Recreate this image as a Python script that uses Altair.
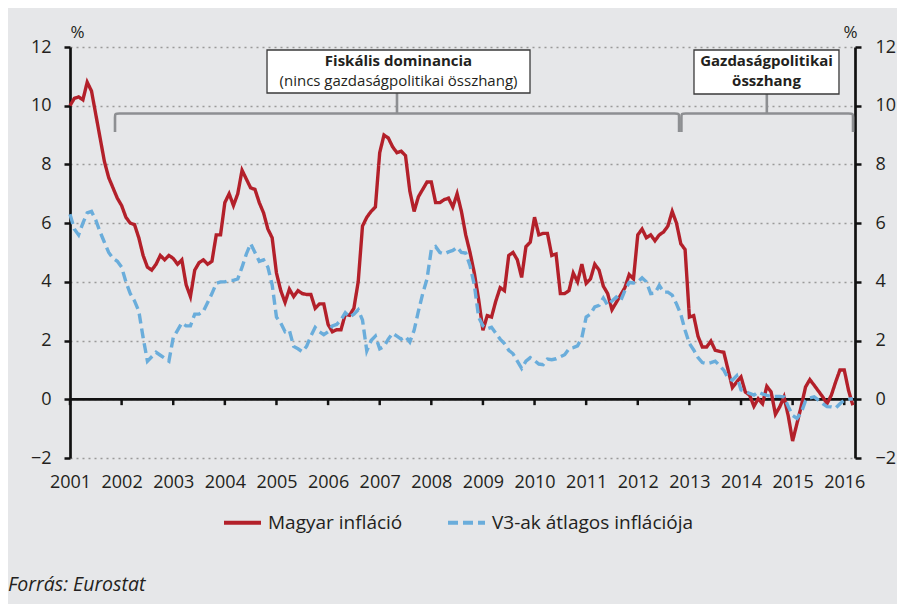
import altair as alt
import pandas as pd

# ---------------- data ----------------
series_names = ["Magyar infláció", "V3-ak átlagos inflációja"]
start_year = 2001

magyar = [
    10.0, 10.25, 10.3, 10.2, 10.8, 10.5, 9.7, 8.9, 8.1, 7.55, 7.2, 6.85,      # 2001
    6.6, 6.2, 6.0, 5.95, 5.5, 4.9, 4.5, 4.4, 4.6, 4.9, 4.75, 4.9,             # 2002
    4.8, 4.6, 4.75, 3.9, 3.5, 4.4, 4.65, 4.75, 4.6, 4.7, 5.6, 5.6,            # 2003
    6.7, 7.0, 6.6, 7.0, 7.8, 7.5, 7.2, 7.15, 6.7, 6.35, 5.8, 5.5,             # 2004
    4.3, 3.7, 3.3, 3.75, 3.5, 3.7, 3.6, 3.57, 3.57, 3.1, 3.25, 3.25,          # 2005
    2.55, 2.3, 2.37, 2.37, 2.9, 2.86, 3.1, 4.0, 5.9, 6.2, 6.4, 6.55,          # 2006
    8.4, 9.0, 8.9, 8.6, 8.4, 8.45, 8.3, 7.1, 6.4, 6.9, 7.15, 7.4,             # 2007
    7.4, 6.7, 6.7, 6.8, 6.85, 6.55, 7.0, 6.4, 5.6, 5.0, 4.3, 3.4,             # 2008
    2.35, 2.85, 2.8, 3.35, 3.8, 3.7, 4.9, 5.0, 4.75, 4.15, 5.2, 5.35,         # 2009
    6.2, 5.6, 5.65, 5.65, 4.9, 4.95, 3.6, 3.6, 3.7, 4.3, 4.0, 4.6,            # 2010
    3.95, 4.1, 4.6, 4.4, 3.85, 3.6, 3.05, 3.3, 3.55, 3.8, 4.25, 4.1,          # 2011
    5.6, 5.8, 5.5, 5.6, 5.4, 5.6, 5.7, 5.9, 6.4, 6.0, 5.3, 5.1,               # 2012
    2.8, 2.85, 2.15, 1.78, 1.78, 1.98, 1.67, 1.63, 1.6, 1.0, 0.4, 0.59,       # 2013
    0.76, 0.25, 0.14, -0.24, 0.02, -0.15, 0.44, 0.25, -0.51, -0.26, 0.08, -0.58,  # 2014
    -1.42, -0.83, -0.24, 0.42, 0.67, 0.48, 0.28, 0.08, -0.15, 0.14, 0.59, 1.0,    # 2015
    1.0, 0.3, -0.2,                                                           # 2016
]

v3 = [
    6.3, 5.8, 5.6, 6.0, 6.35, 6.4, 6.1, 5.7, 5.35, 5.0, 4.8, 4.7,             # 2001
    4.5, 4.0, 3.6, 3.35, 3.0, 2.1, 1.3, 1.45, 1.6, 1.5, 1.4, 1.3,             # 2002
    2.1, 2.35, 2.6, 2.5, 2.5, 2.9, 2.9, 3.0, 3.3, 3.6, 3.95, 4.0,             # 2003
    4.0, 4.05, 4.05, 4.1, 4.5, 4.95, 5.3, 5.0, 4.7, 4.75, 4.5, 3.9,           # 2004
    2.8, 2.6, 2.3, 2.35, 1.8, 1.72, 1.62, 1.8, 2.15, 2.45, 2.3, 2.2,          # 2005
    2.3, 2.5, 2.55, 2.7, 2.95, 2.8, 2.9, 3.05, 2.7, 1.65, 2.0, 2.15,          # 2006
    1.72, 1.8, 2.05, 2.25, 2.15, 2.05, 2.14, 1.95, 2.35, 3.0, 3.6, 4.1,       # 2007
    5.1, 5.2, 5.0, 4.95, 5.02, 5.07, 5.18, 5.0, 4.98, 4.55, 3.9, 2.8,         # 2008
    2.5, 2.4, 2.45, 2.25, 2.05, 1.9, 1.67, 1.55, 1.3, 1.05, 1.3, 1.42,        # 2009
    1.32, 1.2, 1.18, 1.37, 1.35, 1.38, 1.45, 1.52, 1.72, 1.76, 1.82, 2.1,     # 2010
    2.8, 2.9, 3.15, 3.2, 3.45, 3.2, 3.35, 3.48, 3.35, 3.7, 3.98, 3.96,        # 2011
    4.0, 4.14, 4.0, 3.6, 3.62, 3.88, 3.65, 3.65, 3.55, 3.25, 2.9, 2.35,       # 2012
    1.9, 1.68, 1.42, 1.25, 1.21, 1.25, 1.3, 1.15, 0.99, 0.72, 0.65, 0.8,      # 2013
    0.32, 0.27, 0.2, 0.14, 0.25, 0.18, 0.13, 0.1, 0.1, 0.1, 0.08, -0.25,      # 2014
    -0.55, -0.65, -0.45, -0.05, 0.05, 0.08, -0.03, -0.15, -0.25, -0.26, -0.3, -0.15,  # 2015
    -0.03, 0.0, 0.02,                                                         # 2016
]

year_ticks = list(range(2001, 2017))
y_ticks = [-2, 0, 2, 4, 6, 8, 10, 12]

# ---------------- styles ----------------
RED = "#b3202a"
BLUE = "#6aaddb"
TXT = "#231f20"
AXC = "#111111"
FONT = "Open Sans"
BG = "#e6e7e9"

rows = []
for i, v in enumerate(magyar):
    rows.append({"t": start_year + i / 12, "v": v, "s": series_names[0]})
for i, v in enumerate(v3):
    rows.append({"t": start_year + i / 12, "v": v, "s": series_names[1]})
df = pd.DataFrame(rows)

W, H = 785, 411
x_end = 2001 + 182.5 / 12
x_scale = alt.Scale(domain=[2001, x_end], nice=False, zero=False)
y_scale = alt.Scale(domain=[-2, 12], nice=False, zero=False)

legend = alt.Legend(
    orient="none", legendX=152, legendY=455, direction="horizontal", title=None,
    symbolType="stroke", symbolSize=1369, symbolStrokeWidth=4,
    labelFont=FONT, labelFontSize=19, labelColor=TXT, labelOffset=5,
    columnPadding=37, labelLimit=400,
)
color = alt.Color("s:N", scale=alt.Scale(domain=series_names, range=[RED, BLUE]), legend=legend)
dash = alt.StrokeDash("s:N", scale=alt.Scale(domain=series_names, range=[[1, 0], [10, 5]]), legend=legend)

axis_common = dict(
    values=y_ticks, domainColor=AXC, domainWidth=2.7, tickColor=AXC,
    tickWidth=2.5, tickSize=6, labelFont=FONT, labelFontSize=18, labelColor=TXT,
    title="%", titleAngle=0, titleFont=FONT, titleFontSize=17, titleFontWeight="normal",
    titleColor=TXT, titleAlign="center", titleBaseline="middle", titleY=-15,
)

left_axis = alt.Axis(orient="left", grid=True, gridColor="#9a9a9a", gridDash=[2, 4],
                     gridWidth=1.3, labelPadding=13, titleX=7, **axis_common)
right_axis = alt.Axis(orient="right", grid=False, labelPadding=14, titleX=-5, **axis_common)

x_axis = alt.Axis(orient="bottom", values=year_ticks, format="d",
                  domain=False, ticks=False, tickSize=0, labelOverlap=False, labelFlush=False,
                  labelFont=FONT, labelFontSize=18, labelColor=TXT, labelPadding=15,
                  title=None, grid=False)

red_df = df[df.s == series_names[0]]
blue_df = df[df.s == series_names[1]]

red_line = alt.Chart(red_df).mark_line(strokeWidth=3.4, strokeCap="butt").encode(
    x=alt.X("t:Q", scale=x_scale, axis=x_axis),
    y=alt.Y("v:Q", scale=y_scale, axis=left_axis),
    color=color, strokeDash=dash,
)
blue_line = alt.Chart(blue_df).mark_line(strokeWidth=3.4, strokeCap="butt").encode(
    x=alt.X("t:Q", scale=x_scale, axis=None),
    y=alt.Y("v:Q", scale=y_scale, axis=right_axis),
    color=color, strokeDash=dash,
)

# zero line (category axis) with year ticks
zero_df = pd.DataFrame({"x": [2001], "x2": [x_end], "y": [0]})
zero_line = alt.Chart(zero_df).mark_rule(color=AXC, strokeWidth=2.7).encode(
    x=alt.X("x:Q", scale=x_scale, axis=None), x2="x2:Q",
    y=alt.Y("y:Q", scale=y_scale, axis=None),
)
tick_df = pd.DataFrame({"x": year_ticks, "y": [0] * len(year_ticks), "y2": [-0.2] * len(year_ticks)})
year_tick_marks = alt.Chart(tick_df).mark_rule(color=AXC, strokeWidth=2.5).encode(
    x=alt.X("x:Q", scale=x_scale, axis=None),
    y=alt.Y("y:Q", scale=y_scale, axis=None), y2="y2:Q",
)

# ---------------- annotations (braces, boxes, texts) ----------------
GREY = "#8d8f92"
y_br, y_end = 9.735, 9.105


def brace(x0, x1, gid):
    pts = [(x0, y_end), (x0, y_end + 0.3), (x0, y_br - 0.12), (x0, y_br),
           (x0 + 0.08, y_br), (x0 + 0.2, y_br), (x1 - 0.2, y_br), (x1 - 0.08, y_br),
           (x1, y_br), (x1, y_br - 0.12), (x1, y_end + 0.3), (x1, y_end)]
    return [{"x": a, "y": b, "i": k, "g": gid} for k, (a, b) in enumerate(pts)]


brace_df = pd.DataFrame(brace(2001.872, 2012.80, "a") + brace(2012.845, 2016.17, "b"))
braces = alt.Chart(brace_df).mark_line(color=GREY, strokeWidth=2.6, interpolate="basis").encode(
    x=alt.X("x:Q", scale=x_scale, axis=None),
    y=alt.Y("y:Q", scale=y_scale, axis=None),
    detail="g:N", order="i:Q",
)

stem_df = pd.DataFrame({"x": [2007.335, 2014.50], "y": [10.43, 10.40], "y2": [y_br, y_br]})
stems = alt.Chart(stem_df).mark_rule(color=GREY, strokeWidth=2.6).encode(
    x=alt.X("x:Q", scale=x_scale, axis=None),
    y=alt.Y("y:Q", scale=y_scale, axis=None),
    y2="y2:Q",
)

box_df = pd.DataFrame({"x": [2004.817, 2013.089], "x2": [2009.912, 2015.898],
                       "y": [11.898, 11.898], "y2": [10.433, 10.399]})
boxes = alt.Chart(box_df).mark_rect(fill="white", stroke="#3a3a3a", strokeWidth=1.3).encode(
    x=alt.X("x:Q", scale=x_scale, axis=None), x2="x2:Q",
    y=alt.Y("y:Q", scale=y_scale, axis=None), y2="y2:Q",
)

ann_df = pd.DataFrame({
    "x": [2007.364, 2007.364, 2014.494, 2014.494],
    "y": [11.52, 10.84, 11.52, 10.84],
    "txt": ["Fiskális dominancia", "(nincs gazdaságpolitikai összhang)",
            "Gazdaságpolitikai", "összhang"],
    "w": ["bold", "normal", "bold", "bold"],
})
ann_bold = alt.Chart(ann_df[ann_df.w == "bold"]).mark_text(
    font=FONT, fontSize=15, fontWeight="bold", color=TXT, align="center", baseline="middle"
).encode(x=alt.X("x:Q", scale=x_scale, axis=None), y=alt.Y("y:Q", scale=y_scale, axis=None), text="txt:N")
ann_norm = alt.Chart(ann_df[ann_df.w == "normal"]).mark_text(
    font=FONT, fontSize=15, fontWeight="normal", color=TXT, align="center", baseline="middle"
).encode(x=alt.X("x:Q", scale=x_scale, axis=None), y=alt.Y("y:Q", scale=y_scale, axis=None), text="txt:N")

source = alt.Chart(pd.DataFrame({"txt": ["Forrás: Eurostat"]})).mark_text(
    font=FONT, fontSize=19.5, fontStyle="italic", color=TXT, align="left", baseline="middle"
).encode(x=alt.value(-62), y=alt.value(538), text="txt:N")

chart = alt.layer(
    braces, stems, boxes, ann_bold, ann_norm, zero_line, year_tick_marks,
    red_line, blue_line, source
).resolve_axis(x="independent", y="independent").properties(
    width=W, height=H,
    autosize=alt.AutoSizeParams(type="none"),
    padding={"left": 62, "top": 39, "right": 42, "bottom": 146},
).configure(background=BG).configure_view(strokeWidth=0)

chart.save("out.html", embed_options={"renderer": "svg", "actions": False})
